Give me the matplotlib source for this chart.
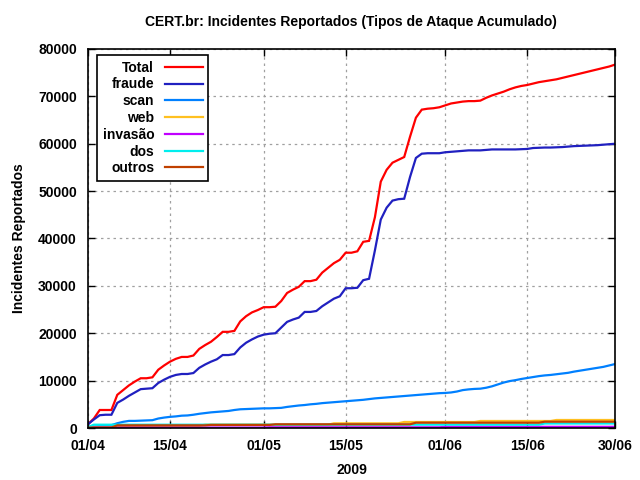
import matplotlib
matplotlib.use("Agg")
import matplotlib.pyplot as plt
import pandas as pd

plt.rcParams['font.family'] = ['Liberation Sans', 'DejaVu Sans']
plt.rcParams['font.weight'] = 'bold'

# daily cumulative counts, 01/04/2009 .. 30/06/2009
dias = pd.date_range('2009-04-01', '2009-06-30', freq='D')

total = [800, 2000, 3800, 3800, 3800, 7000, 8000, 9000, 9800, 10500,
         10500, 10700, 12300, 13200, 14000, 14600, 15000, 15000, 15300, 16700,
         17500, 18200, 19200, 20300, 20300, 20500, 22500, 23600, 24400, 24900,
         25500, 25500, 25600, 26800, 28500, 29200, 29800, 31000, 31000, 31300,
         32800, 33800, 34800, 35500, 37000, 37000, 37300, 39300, 39500, 44500,
         52000, 54500, 56000, 56600, 57200, 61500, 65500, 67200, 67400, 67500,
         67700, 68100, 68500, 68700, 68900, 69000, 69000, 69100, 69700, 70200,
         70600, 71000, 71500, 71900, 72200, 72400, 72700, 73000, 73200, 73400,
         73600, 73900, 74200, 74500, 74800, 75100, 75400, 75700, 76000, 76300,
         76700]
fraude = [800, 1800, 2700, 2800, 2800, 5300, 6000, 6800, 7500, 8200,
          8300, 8400, 9500, 10200, 10800, 11200, 11400, 11400, 11600, 12700,
          13400, 14000, 14500, 15400, 15400, 15600, 17000, 18000, 18700, 19300,
          19700, 19900, 20000, 21200, 22400, 22900, 23300, 24500, 24500, 24700,
          25700, 26500, 27300, 27800, 29500, 29500, 29600, 31200, 31500, 37500,
          44000, 46500, 48000, 48300, 48400, 53000, 57000, 57900, 58000, 58000,
          58000, 58200, 58300, 58400, 58500, 58600, 58600, 58600, 58700, 58800,
          58800, 58800, 58800, 58800, 58850, 58900, 59100, 59150, 59200, 59200,
          59250, 59300, 59400, 59500, 59550, 59600, 59650, 59700, 59800, 59900,
          60000]
scan = [200, 300, 400, 500, 600, 1000, 1300, 1500, 1500, 1550,
        1600, 1650, 2000, 2200, 2350, 2450, 2600, 2650, 2800, 3000,
        3150, 3300, 3400, 3500, 3600, 3800, 3950, 4000, 4050, 4100,
        4150, 4150, 4200, 4250, 4450, 4600, 4750, 4850, 5000, 5100,
        5250, 5350, 5450, 5550, 5650, 5750, 5850, 5950, 6100, 6250,
        6350, 6450, 6550, 6650, 6750, 6850, 6950, 7050, 7150, 7250,
        7350, 7400, 7500, 7700, 8000, 8150, 8250, 8300, 8500, 8800,
        9200, 9600, 9900, 10100, 10350, 10550, 10750, 10950, 11100, 11200,
        11350, 11500, 11650, 11900, 12100, 12300, 12500, 12700, 12900, 13200,
        13500]
web = [150] * 5 + [450] * 15 + [700] * 22 + [990] * 12 + [1270] * 13 + [1480] * 13 + [1690] * 11
invasao = [100] * 31 + [150] * 30 + [250] * 30
dos = [200] + [700] * 77 + [950] * 13
outros = [100] * 5 + [560] * 16 + [650] * 11 + [780] * 24 + [1120] * 22 + [1330] * 13

series = [('Total', total, '#ff0000'),
          ('fraude', fraude, '#2020c0'),
          ('scan', scan, '#0080ff'),
          ('web', web, '#ffc020'),
          ('invasão', invasao, '#c000ff'),
          ('dos', dos, '#00eeee'),
          ('outros', outros, '#c04000')]

tick_dates = pd.to_datetime(['2009-04-01', '2009-04-15', '2009-05-01', '2009-05-15',
                             '2009-06-01', '2009-06-15', '2009-06-30'])
tick_labels = ['01/04', '15/04', '01/05', '15/05', '01/06', '15/06', '30/06']

fig = plt.figure(figsize=(6.4, 4.8), dpi=100)
ax = fig.add_axes([88 / 640, 52 / 480, 527 / 640, 379 / 480])

for nome, vals, cor in series:
    ax.plot(dias, vals, color=cor, linewidth=1.6, label=nome, solid_joinstyle='miter')

ax.set_xlim(dias[0], dias[-1])
ax.set_ylim(0, 80000)
ax.set_xticks(tick_dates)
ax.set_xticklabels(tick_labels)
ax.set_yticks(range(0, 80001, 10000))
ax.tick_params(direction='in', length=5, width=1, top=True, right=True,
               labelsize=10, pad=8)
for s in ax.spines.values():
    s.set_linewidth(1.2)
ax.grid(True, color='#a0a0a0', linestyle=(0, (2, 3)), linewidth=0.9)

ax.set_xlabel('2009', fontsize=10, fontweight='bold')
ax.set_ylabel('Incidentes Reportados', fontsize=10, fontweight='bold')
ax.xaxis.set_label_coords(0.5, -0.093)
ax.yaxis.set_label_coords(-0.118, 0.5)
fig.text(351 / 640, 1 - 22 / 480, 'CERT.br: Incidentes Reportados (Tipos de Ataque Acumulado)',
         ha='center', va='center', fontsize=10, fontweight='bold')

leg = ax.legend(loc='upper left', bbox_to_anchor=(0.017, 0.984), borderaxespad=0,
                markerfirst=False, fancybox=False, framealpha=1, edgecolor='black',
                fontsize=10, labelspacing=0.2, handlelength=2.7, handletextpad=0.8,
                borderpad=0.4)
leg.get_frame().set_linewidth(1.2)

fig.savefig('out.png', dpi=100)
